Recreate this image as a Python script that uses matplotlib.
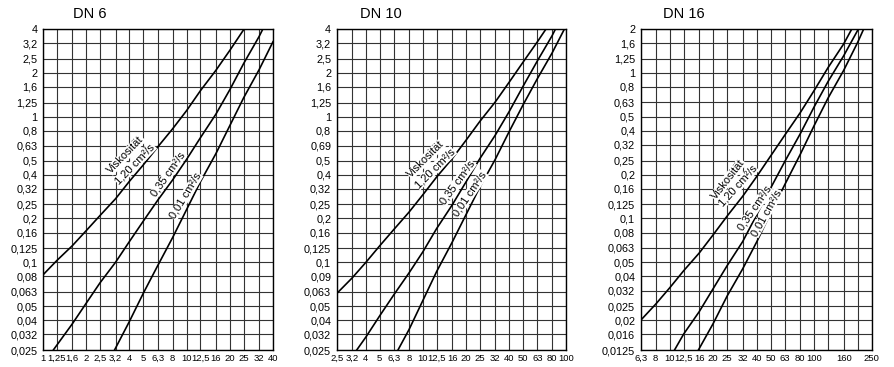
import numpy as np
import matplotlib.pyplot as plt

plt.rcParams["font.family"] = ["Liberation Sans", "DejaVu Sans"]

# --- DN 6 ---
dn6_x = [1, 1.25, 1.6, 2, 2.5, 3.2, 4, 5, 6.3, 8, 10, 12.5, 16, 20, 25, 32, 40]
dn6_xlabels = ["1", "1,25", "1,6", "2", "2,5", "3,2", "4", "5", "6,3", "8", "10",
               "12,5", "16", "20", "25", "32", "40"]
dn6_y = [0.025, 0.032, 0.04, 0.05, 0.063, 0.08, 0.1, 0.125, 0.16, 0.2, 0.25, 0.32,
         0.4, 0.5, 0.63, 0.8, 1, 1.25, 1.6, 2, 2.5, 3.2, 4]
dn6_ylabels = ["0,025", "0,032", "0,04", "0,05", "0,063", "0,08", "0,1", "0,125",
               "0,16", "0,2", "0,25", "0,32", "0,4", "0,5", "0,63", "0,8", "1",
               "1,25", "1,6", "2", "2,5", "3,2", "4"]
# flow (x) against pressure loss (y)
dn6_v120 = [(1, 0.082), (1.25, 0.103), (1.6, 0.13), (2, 0.165), (2.5, 0.21),
            (3.2, 0.273), (4, 0.36), (5, 0.467), (6.3, 0.62), (8, 0.826), (10, 1.1),
            (12.5, 1.51), (16, 2.08), (20, 2.85), (25, 3.96)]
dn6_v035 = [(1.18, 0.025), (1.6, 0.0378), (2, 0.0524), (2.5, 0.0725), (3.2, 0.1),
            (4, 0.139), (5, 0.192), (6.3, 0.267), (8, 0.368), (10, 0.509),
            (12.5, 0.718), (16, 1.04), (20, 1.53), (25, 2.32), (32, 3.55), (34, 4.0)]
dn6_v001 = [(3.15, 0.025), (4, 0.0393), (5, 0.0614), (6.3, 0.095), (8, 0.148),
            (10, 0.23), (12.5, 0.358), (16, 0.557), (20, 0.867), (25, 1.35),
            (32, 2.1), (40, 3.27)]

# --- DN 10 ---
dn10_x = [2.5, 3.2, 4, 5, 6.3, 8, 10, 12.5, 16, 20, 25, 32, 40, 50, 63, 80, 100]
dn10_xlabels = ["2,5", "3,2", "4", "5", "6,3", "8", "10", "12,5", "16", "20", "25",
                "32", "40", "50", "63", "80", "100"]
dn10_y = dn6_y
dn10_ylabels = ["0,025", "0,032", "0,04", "0,05", "0,063", "0,09", "0,1", "0,125",
                "0,16", "0,2", "0,25", "0,32", "0,4", "0,5", "0,69", "0,8", "1",
                "1,25", "1,6", "2", "2,5", "3,2", "4"]
dn10_v120 = [(2.5, 0.061), (3.2, 0.078), (4, 0.1), (5, 0.13), (6.3, 0.169),
             (8, 0.221), (10, 0.291), (12.5, 0.386), (16, 0.514), (20, 0.688),
             (25, 0.928), (32, 1.26), (40, 1.72), (50, 2.36), (63, 3.26), (72, 3.96)]
dn10_v035 = [(3.45, 0.025), (4, 0.0307), (5, 0.043), (6.3, 0.0603), (8, 0.0845),
             (10, 0.118), (12.5, 0.171), (16, 0.247), (20, 0.356), (25, 0.515),
             (32, 0.745), (40, 1.08), (50, 1.61), (63, 2.41), (80, 3.6), (84, 3.96)]
dn10_v001 = [(6.7, 0.025), (8, 0.0345), (10, 0.0547), (12.5, 0.0867), (16, 0.137),
             (20, 0.212), (25, 0.328), (32, 0.508), (40, 0.787), (50, 1.2),
             (63, 1.82), (80, 2.74), (97, 3.96)]

# --- DN 16 ---
dn16_x = [6.3, 8, 10, 12.5, 16, 20, 25, 32, 40, 50, 63, 80, 100, 125, 160, 200, 250]
dn16_xlabels = ["6,3", "8", "10", "12,5", "16", "20", "25", "32", "40", "50", "63",
                "80", "100", "", "160", "", "250"]
dn16_y = [0.0125, 0.016, 0.02, 0.025, 0.032, 0.04, 0.05, 0.063, 0.08, 0.1, 0.125,
          0.16, 0.2, 0.25, 0.32, 0.4, 0.5, 0.63, 0.8, 1, 1.25, 1.6, 2]
dn16_ylabels = ["0,0125", "0,016", "0,02", "0,025", "0,032", "0,04", "0,05", "0,063",
                "0,08", "0,1", "0,125", "0,16", "0,2", "0,25", "0,32", "0,4", "0,5",
                "0,63", "0,8", "1", "1,25", "1,6", "2"]
dn16_v120 = [(6.3, 0.02), (8, 0.0258), (10, 0.0334), (12.5, 0.0438), (16, 0.0579),
             (20, 0.0773), (25, 0.104), (32, 0.142), (40, 0.194), (50, 0.269),
             (63, 0.377), (80, 0.532), (100, 0.757), (125, 1.09), (160, 1.58),
             (181, 1.98)]
dn16_v035 = [(10.8, 0.0125), (12.5, 0.0161), (16, 0.0229), (20, 0.033), (25, 0.0475),
             (32, 0.0694), (40, 0.106), (50, 0.162), (63, 0.249), (80, 0.381),
             (100, 0.585), (125, 0.875), (160, 1.31), (200, 1.96), (201, 2.0)]
dn16_v001 = [(15.8, 0.0125), (20, 0.019), (25, 0.0294), (32, 0.0451), (40, 0.069),
             (50, 0.109), (63, 0.173), (80, 0.275), (100, 0.435), (125, 0.674),
             (160, 1.04), (200, 1.62), (220, 2.0)]

panels = [
    ("DN 6", dn6_x, dn6_xlabels, dn6_y, dn6_ylabels, [dn6_v120, dn6_v035, dn6_v001]),
    ("DN 10", dn10_x, dn10_xlabels, dn10_y, dn10_ylabels, [dn10_v120, dn10_v035, dn10_v001]),
    ("DN 16", dn16_x, dn16_xlabels, dn16_y, dn16_ylabels, [dn16_v120, dn16_v035, dn16_v001]),
]

# curve labels: (text, curve index, y on curve, angle, offset to upper left in px)
labels = [
    [("Viskosität", 0, 0.44, 46, 20), ("1,20 cm²/s", 0, 0.44, 46, 7),
     ("0,35 cm²/s", 1, 0.38, 55, 7), ("0,01 cm²/s", 2, 0.27, 59, 7)],
    [("Viskosität", 0, 0.41, 45, 20), ("1,20 cm²/s", 0, 0.41, 45, 7),
     ("0,35 cm²/s", 1, 0.33, 54, 7), ("0,01 cm²/s", 2, 0.28, 56, 6)],
    [("Viskosität", 0, 0.15, 52, 22), ("1,20 cm²/s", 0, 0.15, 48, 10),
     ("0,35 cm²/s", 1, 0.112, 56, 5), ("0,01 cm²/s", 2, 0.106, 61, 4)],
]

W, H = 894, 367
fig = plt.figure(figsize=(W / 100, H / 100), dpi=100)
lefts = [43, 336.7, 640.7]
widths = [230, 229.3, 231]
titles_dx = [0.13, 0.10, 0.097]

for k, (title, xs, xl, ys, yl, curves) in enumerate(panels):
    ax = fig.add_axes([lefts[k] / W, 17 / H, widths[k] / W, 321 / H])
    ax.set_xscale("log")
    ax.set_yscale("log")
    ax.set_xlim(xs[0], xs[-1])
    ax.set_ylim(ys[0], ys[-1])
    ax.set_xticks(xs)
    ax.set_xticklabels(xl)
    ax.set_yticks(ys)
    ax.set_yticklabels(yl)
    ax.minorticks_off()
    ax.tick_params(length=0, labelsize=7.8, pad=4)
    ax.tick_params(axis="x", labelsize=6.8, pad=3)
    ax.grid(True, color="#333333", lw=0.8)
    for s in ax.spines.values():
        s.set_linewidth(1.0)
    for c in curves:
        ax.plot([p[0] for p in c], [p[1] for p in c], color="black", lw=1.2)
    for txt, ci, ly, ang, d in labels[k]:
        c = curves[ci]
        lx = 10 ** np.interp(np.log10(ly), np.log10([p[1] for p in c]),
                             np.log10([p[0] for p in c]))
        a = np.radians(ang)
        ax.annotate(txt, (lx, ly), xytext=(-d * np.sin(a), d * np.cos(a)),
                    textcoords="offset pixels", fontsize=8, rotation=ang,
                    rotation_mode="anchor", ha="center", va="center",
                    bbox=dict(facecolor="white", edgecolor="none", pad=0.2))
    ax.text(titles_dx[k], 1.025, title, transform=ax.transAxes, fontsize=10.5,
            va="bottom", ha="left")

fig.savefig("out.png", dpi=100)
